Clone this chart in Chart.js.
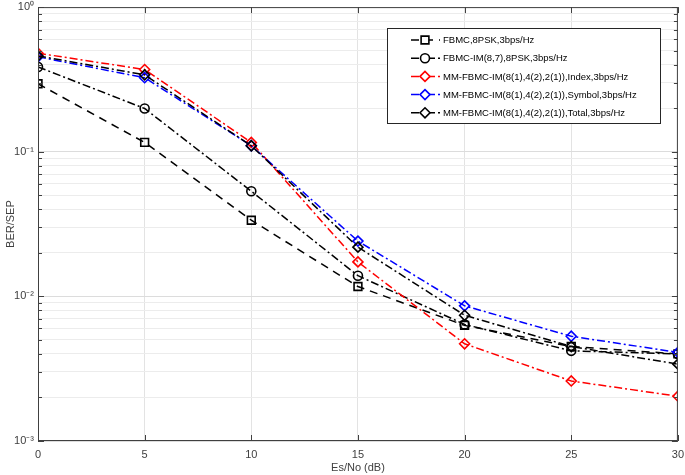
<!DOCTYPE html>
<html>
<head>
<meta charset="utf-8">
<script src="https://cdn.jsdelivr.net/npm/chart.js@4.4.1/dist/chart.umd.min.js"></script>
<style>
  html, body { margin: 0; padding: 0; background: #fff; }
</style>
</head>
<body>
<canvas id="berChart" width="685" height="475"></canvas>
<script>
// Es/No values (dB) and BER/SEP
const snr = [0, 5, 10, 15, 20, 25, 30];
const fbmc8psk = [0.295, 0.116, 0.0336, 0.0117, 0.0063, 0.0045, 0.0040];
const fbmcIm = [0.386, 0.199, 0.0533, 0.0139, 0.0064, 0.0042, 0.0040];
const mmIndex = [0.48, 0.37, 0.116, 0.0173, 0.0047, 0.0026, 0.00204];
const mmSymbol = [0.453, 0.325, 0.110, 0.0241, 0.0086, 0.0053, 0.0041];
const mmTotal = [0.46, 0.34, 0.110, 0.0219, 0.0074, 0.0045, 0.0034];

const seriesNames = [
  'FBMC,8PSK,3bps/Hz',
  'FBMC-IM(8,7),8PSK,3bps/Hz',
  'MM-FBMC-IM(8(1),4(2),2(1)),Index,3bps/Hz',
  'MM-FBMC-IM(8(1),4(2),2(1)),Symbol,3bps/Hz',
  'MM-FBMC-IM(8(1),4(2),2(1)),Total,3bps/Hz'
];
const xTicks = [0, 5, 10, 15, 20, 25, 30];
const yDecades = [-3, -2, -1, 0];
const yTickLabels = ['10\u207B\u00B3', '10\u207B\u00B2', '10\u207B\u00B9', '10\u2070'];

const axisColor = '#404040';
const FONT = 'Liberation Sans, Arial, Helvetica, sans-serif';

function toPoints(vals) {
  return snr.map((x, i) => ({ x: x, y: vals[i] }));
}

function isDecade(v) {
  const l = Math.log10(v);
  return Math.abs(l - Math.round(l)) < 1e-9;
}

const styles = [
  { color: '#000000', dash: [8, 6], point: 'rect', radius: 5.5 },
  { color: '#000000', dash: [8, 3, 2, 3], point: 'circle', radius: 4.5 },
  { color: '#ff0000', dash: [8, 3, 2, 3], point: 'rectRot', radius: 5 },
  { color: '#0000ff', dash: [8, 3, 2, 3], point: 'rectRot', radius: 5 },
  { color: '#000000', dash: [8, 3, 2, 3], point: 'rectRot', radius: 5 }
];
const seriesValues = [fbmc8psk, fbmcIm, mmIndex, mmSymbol, mmTotal];

const datasets = seriesValues.map((vals, i) => ({
  label: seriesNames[i],
  data: toPoints(vals),
  borderColor: styles[i].color,
  borderWidth: 1.5,
  borderDash: styles[i].dash,
  pointStyle: styles[i].point,
  pointRadius: styles[i].radius,
  pointBorderColor: styles[i].color,
  pointBackgroundColor: 'rgba(255,255,255,0)',
  pointBorderWidth: 1.6,
  tension: 0,
  fill: false,
  order: seriesValues.length - i
}));

// box, inside tick marks and legend, drawn MATLAB style
const matlabAxes = {
  id: 'matlabAxes',
  afterDatasetsDraw(chart) {
    const ctx = chart.ctx;
    const a = chart.chartArea;
    const xs = chart.scales.x;
    const ys = chart.scales.y;
    ctx.save();
    ctx.strokeStyle = axisColor;
    ctx.lineWidth = 1;
    ctx.setLineDash([]);
    ctx.strokeRect(a.left + 0.5, a.top + 0.5, a.right - a.left - 1, a.bottom - a.top - 1);

    ctx.beginPath();
    xTicks.forEach(t => {
      const px = Math.round(xs.getPixelForValue(t)) + 0.5;
      ctx.moveTo(px, a.bottom); ctx.lineTo(px, a.bottom - 6);
      ctx.moveTo(px, a.top); ctx.lineTo(px, a.top + 6);
    });
    ys.ticks.forEach(t => {
      const py = Math.round(ys.getPixelForValue(t.value)) + 0.5;
      const len = isDecade(t.value) ? 6 : 4;
      ctx.moveTo(a.left, py); ctx.lineTo(a.left + len, py);
      ctx.moveTo(a.right, py); ctx.lineTo(a.right - len, py);
    });
    ctx.stroke();

    // legend
    const lx = 387, ly = 28, lw = 273, lh = 95;
    ctx.fillStyle = '#ffffff';
    ctx.fillRect(lx, ly, lw, lh);
    ctx.strokeStyle = '#262626';
    ctx.strokeRect(lx + 0.5, ly + 0.5, lw, lh);
    ctx.font = '9.5px ' + FONT;
    ctx.textBaseline = 'middle';
    ctx.textAlign = 'left';
    chart.data.datasets.forEach((ds, i) => {
      const y = ly + 12 + i * 18.2;
      ctx.strokeStyle = ds.borderColor;
      ctx.lineWidth = 1.5;
      ctx.setLineDash(ds.borderDash);
      ctx.beginPath();
      ctx.moveTo(411, y); ctx.lineTo(440, y);
      ctx.stroke();
      ctx.setLineDash([]);
      ctx.lineWidth = 1.6;
      ctx.fillStyle = '#ffffff';
      Chart.helpers.drawPoint(ctx, {
        pointStyle: ds.pointStyle, radius: ds.pointRadius, borderWidth: 1.6, rotation: 0
      }, 425, y);
      ctx.fillStyle = '#000000';
      ctx.fillText(ds.label, 443, y + 0.5);
    });
    ctx.restore();
  }
};

new Chart(document.getElementById('berChart').getContext('2d'), {
  type: 'line',
  data: { datasets: datasets },
  options: {
    responsive: false,
    animation: false,
    layout: { padding: { top: 5, right: 5, left: 0, bottom: 0 } },
    plugins: { legend: { display: false }, tooltip: { enabled: false } },
    scales: {
      x: {
        type: 'linear',
        min: 0,
        max: 30,
        afterBuildTicks: (scale) => { scale.ticks = xTicks.map(v => ({ value: v })); },
        afterFit: (scale) => {
          scale.height = 34;
          scale.paddingLeft = 0;
          scale.paddingRight = 0;
        },
        ticks: { color: axisColor, font: { family: FONT, size: 11 }, padding: 7, maxRotation: 0 },
        grid: { color: '#e3e3e3', drawTicks: false, tickLength: 0 },
        border: { display: false },
        title: {
          display: true, text: 'Es/No (dB)', color: axisColor,
          font: { family: FONT, size: 11 }, padding: { top: 0, bottom: 0 }
        }
      },
      y: {
        type: 'logarithmic',
        min: 1e-3,
        max: 1,
        afterBuildTicks: (scale) => {
          const ticks = [];
          yDecades.forEach(e => {
            for (let m = 1; m <= 9; m++) {
              const v = m * Math.pow(10, e);
              if (v <= 1.0000001) ticks.push({ value: v, major: m === 1 });
            }
          });
          scale.ticks = ticks;
        },
        afterFit: (scale) => {
          scale.width = 38;
          scale.paddingTop = 0;
          scale.paddingBottom = 0;
        },
        ticks: {
          autoSkip: false,
          color: axisColor,
          font: { family: FONT, size: 11 },
          padding: 4,
          callback: (value) => isDecade(value)
            ? yTickLabels[yDecades.indexOf(Math.round(Math.log10(value)))] : ''
        },
        grid: {
          color: (c) => (c.tick && isDecade(c.tick.value)) ? '#dcdcdc' : '#ececec',
          drawTicks: false,
          tickLength: 0
        },
        border: { display: false },
        title: {
          display: true, text: 'BER/SEP', color: axisColor,
          font: { family: FONT, size: 11 }, padding: { top: 4, bottom: 0 }
        }
      }
    }
  },
  plugins: [matlabAxes]
});
</script>
</body>
</html>
